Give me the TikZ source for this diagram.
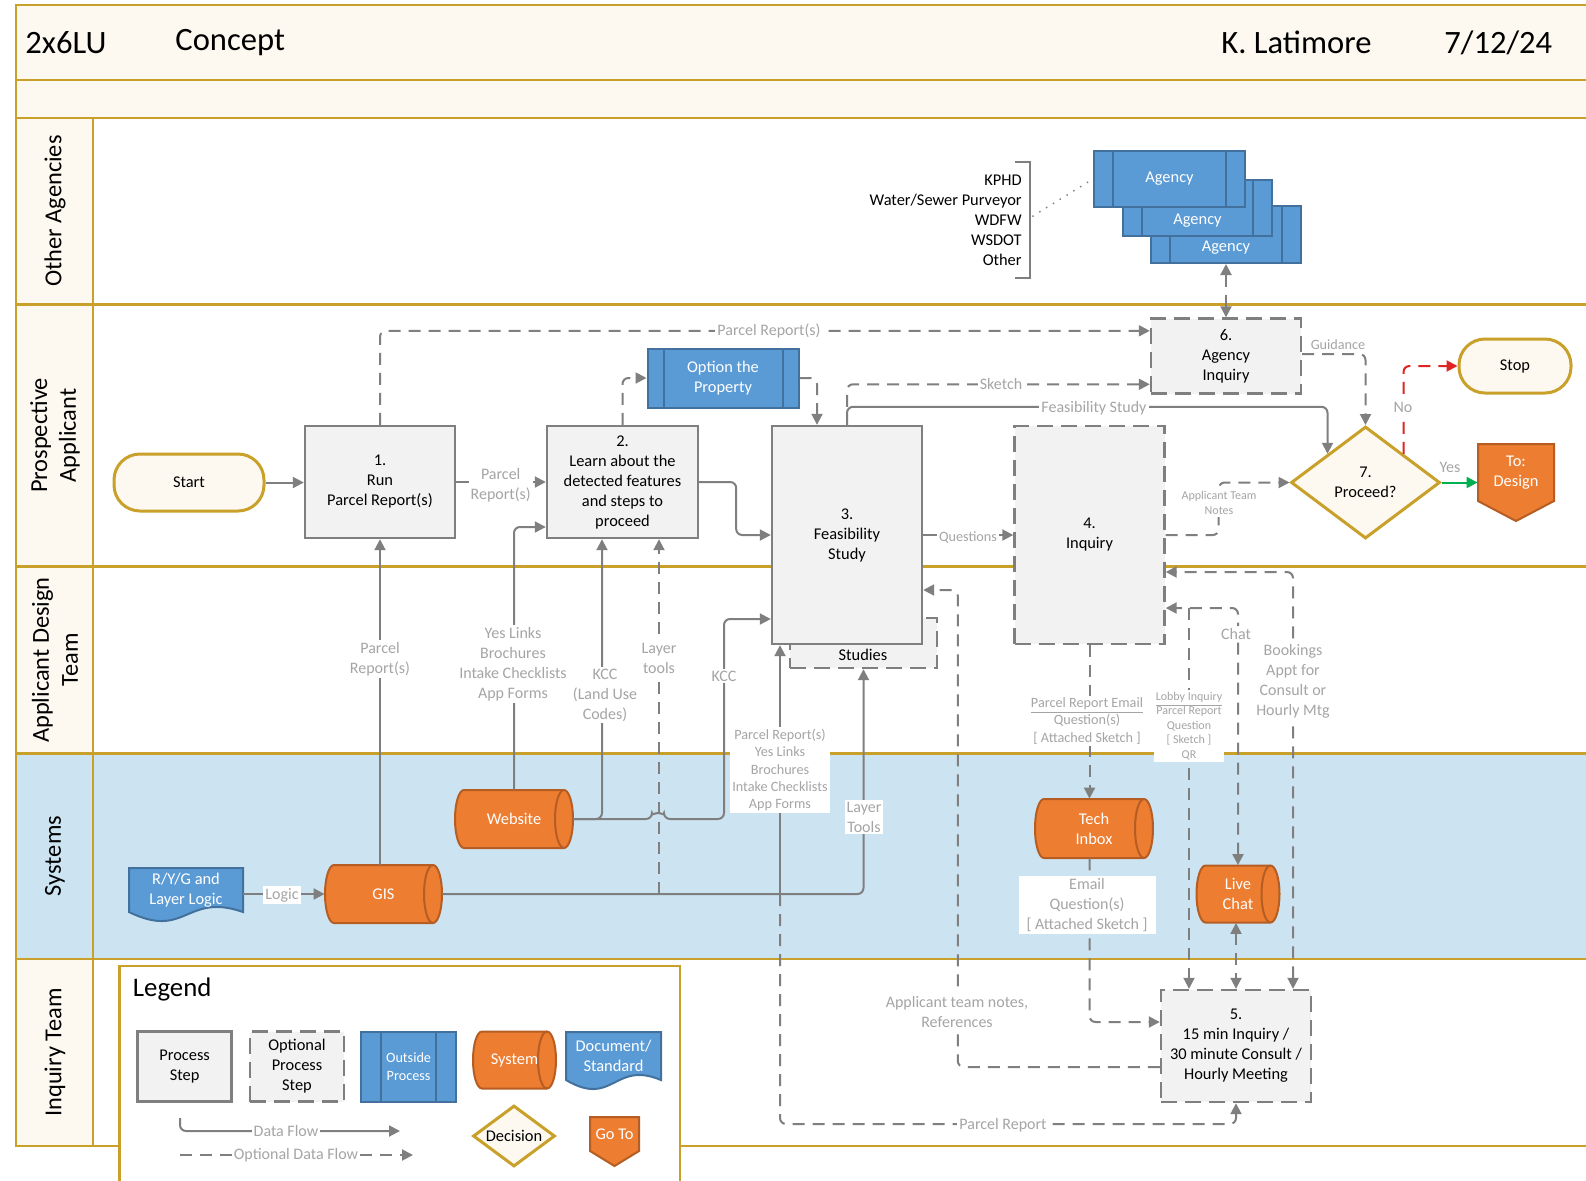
\documentclass[tikz,border=0pt]{standalone}
\usepackage{fontspec}
\setmainfont{Carlito}
\usetikzlibrary{arrows.meta,shapes.geometric}
\definecolor{gold}{HTML}{C9A12A}
\definecolor{cream}{HTML}{FDF9F0}
\definecolor{sysblue}{HTML}{CCE4F2}
\definecolor{boxgray}{HTML}{F2F2F2}
\definecolor{linegray}{HTML}{7F7F7F}
\definecolor{labelgray}{HTML}{A5A5A5}
\definecolor{obblue}{HTML}{5B9BD5}
\definecolor{obblued}{HTML}{41719C}
\definecolor{orng}{HTML}{ED7D31}
\definecolor{orngd}{HTML}{B55D22}
\definecolor{noRed}{HTML}{E02424}
\definecolor{yesGreen}{HTML}{00B050}
\newcommand\bodyf{\fontsize{8.2}{10}\selectfont}
\newcommand\lblf{\fontsize{8}{10}\selectfont}
\newcommand\lblsm{\fontsize{7.1}{8.6}\selectfont}
\newcommand\lbltiny{\fontsize{6}{7.3}\selectfont}
% name cx cy w h text  (px units)
\newcommand\sysnode[6]{%
 \pgfmathsetmacro\cylry{#5/4}%
 \pgfmathsetmacro\cylw{#4/2}%
 \pgfmathsetmacro\cylh{#5/2}%
 \filldraw[fill=orng, draw=orngd, line width=1pt] ({#2-#4/2+9},{#3-#5/2}) -- ({#2+#4/2-9},{#3-#5/2}) arc[start angle=90,end angle=-90,x radius=4.5pt,y radius=\cylry pt] -- ({#2-#4/2+9},{#3+#5/2}) arc[start angle=270,end angle=90,x radius=4.5pt,y radius=\cylry pt] -- cycle;
 \draw[orngd, line width=1pt] ({#2+#4/2-9},{#3-#5/2}) arc[start angle=90,end angle=270,x radius=4.5pt,y radius=\cylry pt];
 \node[systext, minimum width=\cylw pt, minimum height=\cylh pt] (#1) at (#2,#3) {#6};
}
% name x0 y0 x1 yb text
\newcommand\docnode[6]{%
 \filldraw[fill=obblue, draw=obblued, line width=1pt] (#2,#3) -- (#4,#3) -- (#4,#5) .. controls ({(#2+#4)/2},{#5-20}) and ({(#2+#4)/2},{#5+28}) .. (#2,#5) -- cycle;
 \pgfmathsetmacro\docw{(#4-#2)/2}%
 \pgfmathsetmacro\doch{(#5-#3)/2}%
 \node[systext, minimum width=\docw pt, minimum height=\doch pt] (#1) at ({(#2+#4)/2},{(#3+#5)/2}) {#6};
}
% name x0 y0 x1 yshoulder ypoint text
\newcommand\gotonode[7]{%
 \filldraw[fill=orng, draw=orngd, line width=1pt] (#2,#3) -- (#4,#3) -- (#4,#5) -- ({(#2+#4)/2},#6) -- (#2,#5) -- cycle;
 \pgfmathsetmacro\gow{(#4-#2)/2}%
 \pgfmathsetmacro\goh{(#5-#3)/2}%
 \node[systext, minimum width=\gow pt, minimum height=\goh pt] (#1) at ({(#2+#4)/2},{(#3+#5)/2}) {#7};
}
\tikzset{
 >={Triangle[length=5.5pt,width=5.5pt]},
 lane/.style={draw=gold, line width=1.4pt},
 procbox/.style={draw=linegray, fill=boxgray, line width=1.2pt, align=center, font=\bodyf, inner sep=1pt},
 dashbox/.style={procbox, dash pattern=on 8pt off 4pt},
 outproc/.style={draw=obblued, fill=obblue, line width=1pt, text=white, align=center, font=\bodyf, inner sep=1pt,
   path picture={\draw[obblued, line width=1pt] ([xshift=#1]path picture bounding box.north west) -- ([xshift=#1]path picture bounding box.south west) ([xshift=-#1]path picture bounding box.north east) -- ([xshift=-#1]path picture bounding box.south east);}},
 outproc/.default=9pt,
 term/.style={draw=gold, fill=cream, line width=1.5pt, font=\bodyf, rounded corners=13pt},
 decis/.style={diamond, draw=gold, fill=cream, line width=1.5pt, font=\bodyf, align=center, inner sep=0pt, aspect=1.33},
 systext/.style={text=white, font=\bodyf, align=center, inner sep=0pt},
 flow/.style={draw=linegray, line width=1pt, ->, rounded corners=3pt},
 oflow/.style={flow, dash pattern=on 6pt off 4pt},
 lbl/.style={font=\lblf, text=labelgray, fill=white, inner sep=1pt, align=center},
 lanetxt/.style={rotate=90, font={\fontsize{12.2}{14.4}\selectfont}, align=center},
 headtxt/.style={anchor=west, inner sep=0pt, font={\fontsize{16.3}{19}\selectfont}},
}
\begin{document}
\begin{tikzpicture}[x=0.5pt,y=-0.5pt]
\useasboundingbox (0,0) rectangle (1586,1180);
\fill[white] (0,0) rectangle (1586,1180);
% ---------- lanes ----------
\fill[cream] (16,5) rectangle (1586,118);
\fill[cream] (16,118) rectangle (93,753.5);
\fill[sysblue] (16,753.5) rectangle (1586,959);
\fill[cream] (16,959) rectangle (93,1146);
\draw[lane] (1586,5) -- (16,5) -- (16,1146) -- (1586,1146);
\foreach \yy in {80,118,304.5,566.5,753.5,959} \draw[lane] (16,\yy) -- (1586,\yy);
\draw[lane] (93,118) -- (93,1146);
\node[headtxt] (hid) at (25,42.5) {2x6LU};
\node[headtxt] (hcon) at (175,42.5) {Concept};
\node[headtxt] (hauth) at (1221,42.5) {K. Latimore};
\node[headtxt] (hdate) at (1444,42.5) {7/12/24};
\node[lanetxt] (ln1) at (55,211) {Other Agencies};
\node[lanetxt] (ln2) at (55,435.5) {Prospective\\Applicant};
\node[lanetxt] (ln3) at (55,660) {Applicant Design\\Team};
\node[lanetxt] (ln4) at (55,856) {Systems};
\node[lanetxt] (ln5) at (55,1052.5) {Inquiry Team};
% ---------- legend frame ----------
\filldraw[fill=white, draw=gold, line width=1.4pt] (119.5,1182) -- (119.5,966) -- (680,966) -- (680,1182);
% ---------- other agencies ----------
\node[outproc=9.5pt, minimum width=75pt, minimum height=28.5pt, label={[text=white,font=\bodyf,yshift=-6.75pt]center:Agency}] (ag3) at (1226,234.5) {};
\node[outproc=9.5pt, minimum width=74.5pt, minimum height=28pt, label={[text=white,font=\bodyf,yshift=-6.25pt]center:Agency}] (ag2) at (1197.5,208) {};
\node[outproc=9.5pt, minimum width=75.5pt, minimum height=28pt] (ag1) at (1169.5,179) {Agency};
\draw[linegray, line width=1pt] (1015,162) -- (1030,162) -- (1030,278) -- (1015,278);
\node[font=\bodyf, align=right, anchor=east, inner sep=0pt] (aglist) at (1022,220) {KPHD\\Water/Sewer Purveyor\\WDFW\\WSDOT\\Other};
\coordinate (brk) at (1033,216);
\draw[linegray, line width=1pt, dash pattern=on 0pt off 4pt, line cap=round] (brk) -- (ag1.west);
% ---------- process nodes ----------
\node[dashbox, minimum width=73.5pt, minimum height=25pt] (stud) at (863.5,643) {};
\node[term, minimum width=75pt, minimum height=28.5pt] (start) at (189,482.5) {Start};
\node[procbox, minimum width=75pt, minimum height=56pt] (b1) at (380,482) {1.\\Run\\Parcel Report(s)};
\node[procbox, minimum width=75.5pt, minimum height=56pt] (b2) at (622.5,482) {2.\\Learn about the\\detected features\\and steps to\\proceed};
\node[outproc=8pt, minimum width=75.5pt, minimum height=29.5pt] (opt) at (723,378) {Option the\\Property};
\node[procbox, minimum width=75pt, minimum height=109pt] (b3) at (847,535) {3.\\Feasibility\\Study};
\node[font=\bodyf, inner sep=0pt] (studt) at (863,655) {Studies};
\node[dashbox, minimum width=75pt, minimum height=109pt] (b4) at (1089.5,535) {4.\\Inquiry};
\node[dashbox, minimum width=75pt, minimum height=37.5pt] (b6) at (1226,356) {6.\\Agency\\Inquiry};
\node[decis, minimum width=74.5pt, minimum height=56pt] (dec) at (1365.5,482.5) {7.\\Proceed?};
\node[term, minimum width=56pt, minimum height=27pt] (stop) at (1515,366) {Stop};
\gotonode{todes}{1478}{444}{1554}{501}{521}{To:\\Design}
\node[dashbox, minimum width=75pt, minimum height=56pt] (b5) at (1236,1046) {5.\\15 min Inquiry /\\30 minute Consult /\\Hourly Meeting};
% ---------- systems ----------
\sysnode{web}{514}{819}{118}{58}{Website}
\sysnode{gis}{383.5}{894}{117}{58}{GIS}
\sysnode{tech}{1094}{828.5}{118}{59}{Tech\\Inbox}
\sysnode{live}{1238}{894}{83}{57}{Live\\Chat}
\docnode{rdoc}{129}{868}{243}{912}{R/Y/G and\\Layer Logic}
% ---------- connectors ----------
\draw[flow] (start.east) -- (start.east -| b1.west);
\draw[flow] (b1.east) -- (b2.west);
\draw[oflow] (b1.north) |- ([yshift=12.6pt]b6.west);
\draw[oflow] (b2.north) |- (opt.west);
\draw[oflow] (opt.east) -| ([xshift=-15pt]b3.north);
\draw[flow] (b2.east) -- ++(37,0) |- (b3.west);
\draw[oflow] ([yshift=9pt]b3.north) |- ([yshift=-14.15pt]b6.west);
\draw[flow] (b3.north) -- ++(0,-18) -| (dec.north west);
\draw[oflow] ([yshift=1pt]b6.east) -| (dec.north);
\draw[oflow, draw=noRed] (dec.north east) |- (stop.west);
\draw[flow, draw=yesGreen] (dec.east) -- (dec.east -| todes.west);
\draw[flow] (b3.east) -- (b4.west);
\draw[oflow] (b4.east) -- ++(53,0) |- (dec.west);
\draw[oflow,<->] (ag3.south) -- (b6.north);
\draw[flow] (gis.north -| b1.south) -- (b1.south);
\draw[flow] (web.north) |- ([yshift=-22.5pt]b2.west);
\draw[flow] (web.east) -| ([xshift=-10.25pt]b2.south);
\draw[flow] (web.east) -- (652,819) arc[start angle=180,end angle=0,radius=3pt] -- (724,819) |- ([yshift=-42pt]b3.west);
\coordinate (ltj) at (659,894);
\draw[oflow] (ltj) -- ([xshift=18.25pt]b2.south);
\draw[flow] (gis.east) -| (stud.south);
\coordinate (pj) at (780,894);
\draw[flow] (pj) -- ([xshift=-33.5pt]b3.south);
\draw[oflow] (pj) -- (780,1124) -| (b5.south);
\draw[oflow] (b4.south) -- (b4.south |- tech.north);
\draw[oflow] (b4.south |- tech.south) |- ([yshift=12pt]b5.west);
\draw[oflow] ([yshift=-10.5pt]b5.west) -- ++(-202,0) |- ([yshift=-27.5pt]b3.east);
\coordinate (lobj) at (1189,608);
\draw[oflow] (lobj) -- ([xshift=-23.5pt]b5.north);
\draw[oflow,<->] (live.north) |- ([yshift=-36.5pt]b4.east);
\draw[oflow,<->] (b5.north |- live.south) -- (b5.north);
\draw[oflow,<->] ([xshift=28.5pt]b5.north) |- ([yshift=-18.5pt]b4.east);
\draw[flow] (gis.west -| rdoc.east) -- (gis.west);
% ---------- labels ----------
\node[lbl] (l1) at (500.7,485.5) {Parcel\\Report(s)};
\node[lbl] (l2) at (769,331) {Parcel Report(s)};
\node[lbl] (l3) at (1001,384) {Sketch};
\node[lbl] (l4) at (1094,408) {Feasibility Study};
\node[lbl, font=\lblsm, fill=none] (l5) at (1338,345) {Guidance};
\node[lbl] (l6) at (1403,407) {No};
\node[lbl, fill=none] (l7) at (1450,467) {Yes};
\node[lbl, font=\lblsm] (l8) at (968,538) {Questions};
\node[lbl, font=\lbltiny] (l9) at (1219,503) {Applicant Team\\Notes};
\node[lbl] (l10) at (380,659) {Parcel\\Report(s)};
\node[lbl] (l11) at (513,664) {Yes Links\\Brochures\\Intake Checklists\\App Forms};
\node[lbl] (l12) at (605,695) {KCC\\(Land Use\\Codes)};
\node[lbl] (l13) at (659,658) {Layer\\tools};
\node[lbl] (l14) at (724,676) {KCC};
\node[lbl, font=\lblsm] (l15) at (780,770) {Parcel Report(s)\\Yes Links\\Brochures\\Intake Checklists\\App Forms};
\node[lbl] (l16) at (864,817) {Layer\\Tools};
\node[lbl, font=\lblsm] (l17) at (1087,721) {\underline{Parcel Report Email}\\Question(s)\\{[} Attached Sketch {]}};
\node[lbl, font=\lbltiny] (l18) at (1189,726) {\underline{Lobby Inquiry}\\Parcel Report\\Question\\{[} Sketch {]}\\QR};
\node[lbl] (l19) at (1236,634) {Chat};
\node[lbl] (l20) at (1293,681) {Bookings\\Appt for\\Consult or\\Hourly Mtg};
\node[lbl, inner xsep=4pt] (l21) at (1087,905) {Email\\Question(s)\\{[} Attached Sketch {]}};
\node[lbl] (l22) at (957,1012) {Applicant team notes,\\References};
\node[lbl] (l23) at (1003,1125) {Parcel Report};
\node[lbl] (l24) at (282,895) {Logic};
% ---------- legend ----------
\node[anchor=west, inner sep=0pt, font={\fontsize{13.4}{16}\selectfont}] (legt) at (132.5,989) {Legend};
\node[procbox, minimum width=47pt, minimum height=35pt] (lg1) at (184.6,1066.6) {Process\\Step};
\node[dashbox, minimum width=47pt, minimum height=35pt] (lg2) at (297,1066.6) {Optional\\Process\\Step};
\node[outproc=10pt, minimum width=47.5pt, minimum height=35pt, font=\lblsm] (lg3) at (408.6,1066.6) {Outside\\Process};
\sysnode{lg4}{514.5}{1060}{83}{57}{System}
\docnode{lg5}{566}{1032}{661}{1080}{Document/\\Standard}
\node[decis, minimum width=41pt, minimum height=30.5pt, aspect=1.34] (lg6) at (514,1136) {Decision};
\gotonode{lg7}{590}{1117}{639}{1151}{1166}{Go To}
\coordinate (lf1) at (180,1118);
\coordinate (lf2) at (400,1131);
\draw[flow] (lf1) |- (lf2);
\node[lbl] (lf) at (286,1131) {Data Flow};
\coordinate (lo1) at (180,1155);
\coordinate (lo2) at (413,1155);
\draw[oflow] (lo1) -- (lo2);
\node[lbl] (lo) at (296,1155) {Optional Data Flow};
\end{tikzpicture}
\end{document}
